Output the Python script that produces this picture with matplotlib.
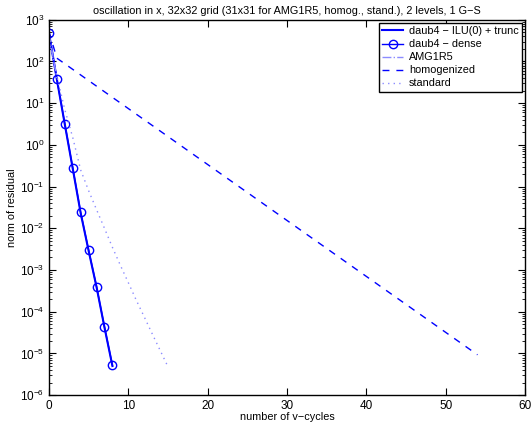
import matplotlib
matplotlib.use("Agg")
import matplotlib.pyplot as plt
from matplotlib.ticker import LogLocator, NullFormatter

plt.rcParams['font.family'] = ['Liberation Sans', 'DejaVu Sans']

# residual histories per v-cycle
cyc_daub = [0, 1, 2, 3, 4, 5, 6, 7, 8]
res_dense = [490, 38, 3.2, 0.28, 0.024, 0.0030, 4.0e-4, 4.3e-5, 5.2e-6]
res_ilu = [480, 37, 3.1, 0.27, 0.023, 0.0029, 3.9e-4, 4.2e-5, 5.0e-6]

cyc_amg = [0, 1]
res_amg = [470, 40]

cyc_hom = [0, 1, 54]
res_hom = [520, 120, 9.3e-6]

cyc_std = [0, 1, 2, 3, 4, 5, 6, 7, 8, 9, 10, 11, 12, 13, 14, 15]
res_std = [320, 45, 7.0, 1.5, 0.25, 0.08, 0.028, 0.010, 3.5e-3,
           1.3e-3, 5.0e-4, 1.9e-4, 7.6e-5, 3.0e-5, 1.2e-5, 4.8e-6]

xticks = [0, 10, 20, 30, 40, 50, 60]
yticks = [1e-6, 1e-5, 1e-4, 1e-3, 1e-2, 1e-1, 1e0, 1e1, 1e2, 1e3]

fig = plt.figure(figsize=(5.32, 4.30), dpi=100)
ax = fig.add_axes([0.092, 0.081, 0.895, 0.873])

ax.semilogy(cyc_daub, res_ilu, '-', color='blue', lw=1.5,
            label='daub4 \u2212 ILU(0) + trunc')
ax.semilogy(cyc_daub, res_dense, '-o', color='blue', lw=1.0, ms=6,
            mfc='none', label='daub4 \u2212 dense')
ax.semilogy(cyc_amg, res_amg, '-.', color='#8c8cff', lw=1.0, label='AMG1R5')
ax.semilogy(cyc_hom, res_hom, '--', color='blue', lw=1.0,
            dashes=(5, 5), label='homogenized')
ax.semilogy(cyc_std, res_std, ':', color='#8c8cff', lw=1.0,
            dashes=(1, 3), label='standard')

ax.set_xlim(0, 60)
ax.set_ylim(1e-6, 1e3)
ax.set_xticks(xticks)
ax.set_yticks(yticks)
ax.yaxis.set_minor_locator(LogLocator(base=10, subs=range(2, 10), numticks=20))
ax.yaxis.set_minor_formatter(NullFormatter())
ax.tick_params(which='both', direction='in', top=True, right=True,
               labelsize=8.5)
ax.tick_params(which='major', length=5)
ax.tick_params(which='minor', length=2.5)
for s in ax.spines.values():
    s.set_linewidth(1.0)

ax.set_xlabel('number of v\u2212cycles', fontsize=7.8, labelpad=0)
ax.set_ylabel('norm of residual', fontsize=7.8, labelpad=2)
ax.set_title('oscillation in x, 32x32 grid (31x31 for AMG1R5, homog., stand.), '
             '2 levels, 1 G\u2212S', fontsize=7.8, pad=4)

leg = ax.legend(loc='upper right', fontsize=7.8, fancybox=False,
                framealpha=1, edgecolor='black', borderpad=0.3,
                labelspacing=0.28, handlelength=2.0, handletextpad=0.5,
                borderaxespad=0.3)
leg.get_frame().set_linewidth(1.0)

fig.savefig('out.png', dpi=100)
